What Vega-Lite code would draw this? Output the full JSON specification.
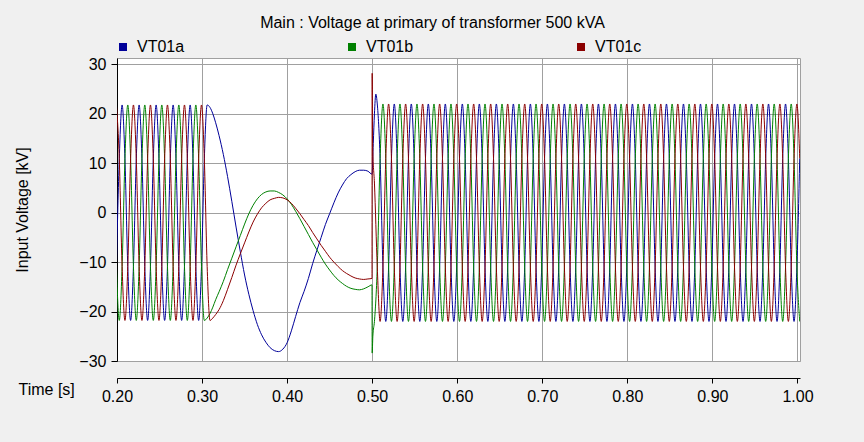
{
"$schema": "https://vega.github.io/schema/vega-lite/v6.json",
"width": 683, "height": 303,
"autosize": {"type": "none"},
"padding": {"left": 117, "top": 58, "right": 64, "bottom": 81},
"background": "#f0f0f0",
"title": {"text": "Main : Voltage at primary of transformer 500 kVA", "anchor": "middle", "frame": "group", "dx": -26, "offset": 8, "font": "Liberation Sans", "fontSize": 16, "fontWeight": "normal", "color": "#000000"},
"config": {"view": {"fill": "white", "stroke": "#a0a0a0"}, "font": "Liberation Sans"},
"data": {"values": [
{"t":0.19933,"a":-10.9,"b":-10.9,"c":21.8},
{"t":0.20267,"a":10.9,"b":-21.8,"c":10.9},
{"t":0.206,"a":21.8,"b":-10.9,"c":-10.9},
{"t":0.20933,"a":10.9,"b":10.9,"c":-21.8},
{"t":0.21267,"a":-10.9,"b":21.8,"c":-10.9},
{"t":0.216,"a":-21.8,"b":10.9,"c":10.9},
{"t":0.21933,"a":-10.9,"b":-10.9,"c":21.8},
{"t":0.22267,"a":10.9,"b":-21.8,"c":10.9},
{"t":0.226,"a":21.8,"b":-10.9,"c":-10.9},
{"t":0.22933,"a":10.9,"b":10.9,"c":-21.8},
{"t":0.23267,"a":-10.9,"b":21.8,"c":-10.9},
{"t":0.236,"a":-21.8,"b":10.9,"c":10.9},
{"t":0.23933,"a":-10.9,"b":-10.9,"c":21.8},
{"t":0.24267,"a":10.9,"b":-21.8,"c":10.9},
{"t":0.246,"a":21.8,"b":-10.9,"c":-10.9},
{"t":0.24933,"a":10.9,"b":10.9,"c":-21.8},
{"t":0.25267,"a":-10.9,"b":21.8,"c":-10.9},
{"t":0.256,"a":-21.8,"b":10.9,"c":10.9},
{"t":0.25933,"a":-10.9,"b":-10.9,"c":21.8},
{"t":0.26267,"a":10.9,"b":-21.8,"c":10.9},
{"t":0.266,"a":21.8,"b":-10.9,"c":-10.9},
{"t":0.26933,"a":10.9,"b":10.9,"c":-21.8},
{"t":0.27267,"a":-10.9,"b":21.8,"c":-10.9},
{"t":0.276,"a":-21.8,"b":10.9,"c":10.9},
{"t":0.27933,"a":-10.9,"b":-10.9,"c":21.8},
{"t":0.28267,"a":10.9,"b":-21.8,"c":10.9},
{"t":0.286,"a":21.8,"b":-10.9,"c":-10.9},
{"t":0.28933,"a":10.9,"b":10.9,"c":-21.8},
{"t":0.29267,"a":-10.9,"b":21.8,"c":-10.9},
{"t":0.296,"a":-21.8,"b":10.9,"c":10.9},
{"t":0.29933,"a":-10.9,"b":-10.9,"c":21.8},
{"t":0.30267,"a":10.9,"b":-21.8,"c":10.9},
{"t":0.306,"a":21.8,"b":-21.3,"c":-10.9},
{"t":0.30933,"a":21.3,"b":-20.4,"c":-21.8},
{"t":0.3127,"a":20.0,"b":-19.1,"c":-21.3},
{"t":0.316,"a":18.2,"b":-17.6,"c":-20.6},
{"t":0.32,"a":15.6,"b":-16.0,"c":-19.6},
{"t":0.325,"a":11.8,"b":-13.9,"c":-17.8},
{"t":0.33,"a":7.3,"b":-11.5,"c":-15.5},
{"t":0.335,"a":2.3,"b":-9.2,"c":-13.1},
{"t":0.34,"a":-2.9,"b":-6.9,"c":-10.6},
{"t":0.345,"a":-7.9,"b":-4.6,"c":-8.3},
{"t":0.35,"a":-12.6,"b":-2.3,"c":-6.1},
{"t":0.355,"a":-16.5,"b":-0.2,"c":-3.9},
{"t":0.36,"a":-19.8,"b":1.5,"c":-1.9},
{"t":0.365,"a":-22.6,"b":2.8,"c":-0.3},
{"t":0.37,"a":-24.7,"b":3.7,"c":1.0},
{"t":0.375,"a":-26.2,"b":4.2,"c":1.9},
{"t":0.38,"a":-27.3,"b":4.4,"c":2.6},
{"t":0.385,"a":-27.9,"b":4.4,"c":2.9},
{"t":0.39,"a":-28.1,"b":4.1,"c":3.1},
{"t":0.395,"a":-27.6,"b":3.6,"c":3.0},
{"t":0.40,"a":-26.3,"b":2.8,"c":2.6},
{"t":0.405,"a":-23.9,"b":1.7,"c":1.9},
{"t":0.41,"a":-21.0,"b":0.3,"c":0.9},
{"t":0.415,"a":-18.2,"b":-1.2,"c":-0.2},
{"t":0.42,"a":-15.9,"b":-2.8,"c":-1.4},
{"t":0.425,"a":-13.3,"b":-4.4,"c":-2.6},
{"t":0.43,"a":-10.3,"b":-6.0,"c":-4.0},
{"t":0.435,"a":-7.6,"b":-7.5,"c":-5.3},
{"t":0.44,"a":-5.0,"b":-9.0,"c":-6.6},
{"t":0.445,"a":-2.4,"b":-10.4,"c":-7.8},
{"t":0.45,"a":-0.2,"b":-11.6,"c":-9.0},
{"t":0.455,"a":2.0,"b":-12.7,"c":-10.0},
{"t":0.46,"a":4.0,"b":-13.6,"c":-10.9},
{"t":0.465,"a":5.6,"b":-14.3,"c":-11.7},
{"t":0.47,"a":6.9,"b":-14.9,"c":-12.3},
{"t":0.475,"a":7.7,"b":-15.3,"c":-12.8},
{"t":0.48,"a":8.3,"b":-15.5,"c":-13.2},
{"t":0.485,"a":8.6,"b":-15.6,"c":-13.4},
{"t":0.49,"a":8.6,"b":-15.4,"c":-13.5},
{"t":0.495,"a":8.4,"b":-15.0,"c":-13.4},
{"t":0.4998,"a":7.8,"b":-14.6,"c":-13.3},
{"t":0.5,"a":8.0,"b":-28.4,"c":28.2},
{"t":0.5006,"c":13},
{"t":0.5008,"b":-25},
{"t":0.5013,"a":14},
{"t":0.50267,"a":20,"b":-22,"c":6},
{"t":0.5043,"a":24},
{"t":0.506,"a":22,"b":-11,"c":-11},
{"t":0.50933,"a":11,"b":11,"c":-22},
{"t":0.51267,"a":-11,"b":22,"c":-11},
{"t":0.516,"a":-22,"b":11,"c":11},
{"t":0.51933,"a":-11,"b":-11,"c":22},
{"t":0.52267,"a":11,"b":-22,"c":11},
{"t":0.526,"a":22,"b":-11,"c":-11},
{"t":0.52933,"a":11,"b":11,"c":-22},
{"t":0.53267,"a":-11,"b":22,"c":-11},
{"t":0.536,"a":-22,"b":11,"c":11},
{"t":0.53933,"a":-11,"b":-11,"c":22},
{"t":0.54267,"a":11,"b":-22,"c":11},
{"t":0.546,"a":22,"b":-11,"c":-11},
{"t":0.54933,"a":11,"b":11,"c":-22},
{"t":0.55267,"a":-11,"b":22,"c":-11},
{"t":0.556,"a":-22,"b":11,"c":11},
{"t":0.55933,"a":-11,"b":-11,"c":22},
{"t":0.56267,"a":11,"b":-22,"c":11},
{"t":0.566,"a":22,"b":-11,"c":-11},
{"t":0.56933,"a":11,"b":11,"c":-22},
{"t":0.57267,"a":-11,"b":22,"c":-11},
{"t":0.576,"a":-22,"b":11,"c":11},
{"t":0.57933,"a":-11,"b":-11,"c":22},
{"t":0.58267,"a":11,"b":-22,"c":11},
{"t":0.586,"a":22,"b":-11,"c":-11},
{"t":0.58933,"a":11,"b":11,"c":-22},
{"t":0.59267,"a":-11,"b":22,"c":-11},
{"t":0.596,"a":-22,"b":11,"c":11},
{"t":0.59933,"a":-11,"b":-11,"c":22},
{"t":0.60267,"a":11,"b":-22,"c":11},
{"t":0.606,"a":22,"b":-11,"c":-11},
{"t":0.60933,"a":11,"b":11,"c":-22},
{"t":0.61267,"a":-11,"b":22,"c":-11},
{"t":0.616,"a":-22,"b":11,"c":11},
{"t":0.61933,"a":-11,"b":-11,"c":22},
{"t":0.62267,"a":11,"b":-22,"c":11},
{"t":0.626,"a":22,"b":-11,"c":-11},
{"t":0.62933,"a":11,"b":11,"c":-22},
{"t":0.63267,"a":-11,"b":22,"c":-11},
{"t":0.636,"a":-22,"b":11,"c":11},
{"t":0.63933,"a":-11,"b":-11,"c":22},
{"t":0.64267,"a":11,"b":-22,"c":11},
{"t":0.646,"a":22,"b":-11,"c":-11},
{"t":0.64933,"a":11,"b":11,"c":-22},
{"t":0.65267,"a":-11,"b":22,"c":-11},
{"t":0.656,"a":-22,"b":11,"c":11},
{"t":0.65933,"a":-11,"b":-11,"c":22},
{"t":0.66267,"a":11,"b":-22,"c":11},
{"t":0.666,"a":22,"b":-11,"c":-11},
{"t":0.66933,"a":11,"b":11,"c":-22},
{"t":0.67267,"a":-11,"b":22,"c":-11},
{"t":0.676,"a":-22,"b":11,"c":11},
{"t":0.67933,"a":-11,"b":-11,"c":22},
{"t":0.68267,"a":11,"b":-22,"c":11},
{"t":0.686,"a":22,"b":-11,"c":-11},
{"t":0.68933,"a":11,"b":11,"c":-22},
{"t":0.69267,"a":-11,"b":22,"c":-11},
{"t":0.696,"a":-22,"b":11,"c":11},
{"t":0.69933,"a":-11,"b":-11,"c":22},
{"t":0.70267,"a":11,"b":-22,"c":11},
{"t":0.706,"a":22,"b":-11,"c":-11},
{"t":0.70933,"a":11,"b":11,"c":-22},
{"t":0.71267,"a":-11,"b":22,"c":-11},
{"t":0.716,"a":-22,"b":11,"c":11},
{"t":0.71933,"a":-11,"b":-11,"c":22},
{"t":0.72267,"a":11,"b":-22,"c":11},
{"t":0.726,"a":22,"b":-11,"c":-11},
{"t":0.72933,"a":11,"b":11,"c":-22},
{"t":0.73267,"a":-11,"b":22,"c":-11},
{"t":0.736,"a":-22,"b":11,"c":11},
{"t":0.73933,"a":-11,"b":-11,"c":22},
{"t":0.74267,"a":11,"b":-22,"c":11},
{"t":0.746,"a":22,"b":-11,"c":-11},
{"t":0.74933,"a":11,"b":11,"c":-22},
{"t":0.75267,"a":-11,"b":22,"c":-11},
{"t":0.756,"a":-22,"b":11,"c":11},
{"t":0.75933,"a":-11,"b":-11,"c":22},
{"t":0.76267,"a":11,"b":-22,"c":11},
{"t":0.766,"a":22,"b":-11,"c":-11},
{"t":0.76933,"a":11,"b":11,"c":-22},
{"t":0.77267,"a":-11,"b":22,"c":-11},
{"t":0.776,"a":-22,"b":11,"c":11},
{"t":0.77933,"a":-11,"b":-11,"c":22},
{"t":0.78267,"a":11,"b":-22,"c":11},
{"t":0.786,"a":22,"b":-11,"c":-11},
{"t":0.78933,"a":11,"b":11,"c":-22},
{"t":0.79267,"a":-11,"b":22,"c":-11},
{"t":0.796,"a":-22,"b":11,"c":11},
{"t":0.79933,"a":-11,"b":-11,"c":22},
{"t":0.80267,"a":11,"b":-22,"c":11},
{"t":0.806,"a":22,"b":-11,"c":-11},
{"t":0.80933,"a":11,"b":11,"c":-22},
{"t":0.81267,"a":-11,"b":22,"c":-11},
{"t":0.816,"a":-22,"b":11,"c":11},
{"t":0.81933,"a":-11,"b":-11,"c":22},
{"t":0.82267,"a":11,"b":-22,"c":11},
{"t":0.826,"a":22,"b":-11,"c":-11},
{"t":0.82933,"a":11,"b":11,"c":-22},
{"t":0.83267,"a":-11,"b":22,"c":-11},
{"t":0.836,"a":-22,"b":11,"c":11},
{"t":0.83933,"a":-11,"b":-11,"c":22},
{"t":0.84267,"a":11,"b":-22,"c":11},
{"t":0.846,"a":22,"b":-11,"c":-11},
{"t":0.84933,"a":11,"b":11,"c":-22},
{"t":0.85267,"a":-11,"b":22,"c":-11},
{"t":0.856,"a":-22,"b":11,"c":11},
{"t":0.85933,"a":-11,"b":-11,"c":22},
{"t":0.86267,"a":11,"b":-22,"c":11},
{"t":0.866,"a":22,"b":-11,"c":-11},
{"t":0.86933,"a":11,"b":11,"c":-22},
{"t":0.87267,"a":-11,"b":22,"c":-11},
{"t":0.876,"a":-22,"b":11,"c":11},
{"t":0.87933,"a":-11,"b":-11,"c":22},
{"t":0.88267,"a":11,"b":-22,"c":11},
{"t":0.886,"a":22,"b":-11,"c":-11},
{"t":0.88933,"a":11,"b":11,"c":-22},
{"t":0.89267,"a":-11,"b":22,"c":-11},
{"t":0.896,"a":-22,"b":11,"c":11},
{"t":0.89933,"a":-11,"b":-11,"c":22},
{"t":0.90267,"a":11,"b":-22,"c":11},
{"t":0.906,"a":22,"b":-11,"c":-11},
{"t":0.90933,"a":11,"b":11,"c":-22},
{"t":0.91267,"a":-11,"b":22,"c":-11},
{"t":0.916,"a":-22,"b":11,"c":11},
{"t":0.91933,"a":-11,"b":-11,"c":22},
{"t":0.92267,"a":11,"b":-22,"c":11},
{"t":0.926,"a":22,"b":-11,"c":-11},
{"t":0.92933,"a":11,"b":11,"c":-22},
{"t":0.93267,"a":-11,"b":22,"c":-11},
{"t":0.936,"a":-22,"b":11,"c":11},
{"t":0.93933,"a":-11,"b":-11,"c":22},
{"t":0.94267,"a":11,"b":-22,"c":11},
{"t":0.946,"a":22,"b":-11,"c":-11},
{"t":0.94933,"a":11,"b":11,"c":-22},
{"t":0.95267,"a":-11,"b":22,"c":-11},
{"t":0.956,"a":-22,"b":11,"c":11},
{"t":0.95933,"a":-11,"b":-11,"c":22},
{"t":0.96267,"a":11,"b":-22,"c":11},
{"t":0.966,"a":22,"b":-11,"c":-11},
{"t":0.96933,"a":11,"b":11,"c":-22},
{"t":0.97267,"a":-11,"b":22,"c":-11},
{"t":0.976,"a":-22,"b":11,"c":11},
{"t":0.97933,"a":-11,"b":-11,"c":22},
{"t":0.98267,"a":11,"b":-22,"c":11},
{"t":0.986,"a":22,"b":-11,"c":-11},
{"t":0.98933,"a":11,"b":11,"c":-22},
{"t":0.99267,"a":-11,"b":22,"c":-11},
{"t":0.996,"a":-22,"b":11,"c":11},
{"t":0.99933,"a":-11,"b":-11,"c":22},
{"t":1.00267,"a":11,"b":-22,"c":11}
]},
"transform": [{"fold": ["a","b","c"], "as": ["phase","v"]}, {"filter": "isValid(datum.v)"}],
"mark": {"type": "line", "interpolate": "monotone", "strokeWidth": 1, "clip": true},
"encoding": {
"x": {"field": "t", "type": "quantitative", "scale": {"domain": [0.2, 1.003], "nice": false, "zero": false},
 "axis": {"values": [0.2,0.3,0.4,0.5,0.6,0.7,0.8,0.9,1.0], "format": ".2f", "title": "Time [s]", "offset": 17, "domainColor": "#000000", "tickColor": "#000000", "tickSize": 5, "labelPadding": 5, "labelFontSize": 16, "labelColor": "#000000", "labelFlush": false, "grid": true, "gridColor": "#a0a0a0", "titleFontSize": 16, "titleFontWeight": "normal", "titleColor": "#000000", "titleAnchor": "start", "titleAlign": "left", "titleBaseline": "top", "titleX": -99, "titleY": 3}},
"y": {"field": "v", "type": "quantitative", "scale": {"domain": [-30, 31.3], "nice": false},
 "axis": {"values": [-30,-20,-10,0,10,20,30], "title": "Input Voltage [kV]", "domainColor": "#000000", "tickColor": "#000000", "tickSize": 6, "labelPadding": 5, "labelFontSize": 16, "labelColor": "#000000", "grid": true, "gridColor": "#a0a0a0", "titleFontSize": 16, "titleFontWeight": "normal", "titleColor": "#000000", "titlePadding": 48}},
"color": {"field": "phase", "type": "nominal", "scale": {"domain": ["a","b","c"], "range": ["#000099","#008000","#8b0000"]},
 "legend": {"orient": "none", "legendX": -2, "legendY": -19, "direction": "horizontal", "title": null, "padding": 0, "labelExpr": "'VT01' + datum.label", "labelFontSize": 16, "labelColor": "#000000", "labelOffset": 6, "symbolType": "square", "symbolSize": 4, "symbolStrokeWidth": 6, "symbolOpacity": 1, "columnPadding": 154}}
}
}
